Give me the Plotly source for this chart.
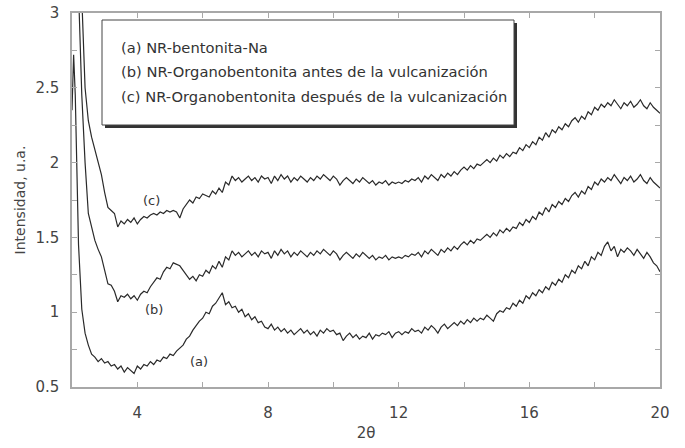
import plotly.graph_objects as go

# --- data -------------------------------------------------------------
x_head = [2.0, 2.05, 2.1, 2.15, 2.2, 2.3, 2.4]
step_start = 2.5
step = 0.1

a_head = [2.35, 2.72, 2.45, 1.95, 1.45, 1.02, 0.86]
b_head = [3.5, 3.5, 3.5, 3.3, 3.15, 2.45, 2.0]
c_head = [3.5, 3.5, 3.5, 3.5, 3.45, 3.1, 2.5]

a_vals = [
    0.78, 0.72, 0.70, 0.67, 0.69, 0.66, 0.67, 0.64, 0.65, 0.62,
    0.64, 0.60, 0.63, 0.61, 0.59, 0.64, 0.62, 0.65, 0.64, 0.67,
    0.65, 0.68, 0.67, 0.70, 0.69, 0.72, 0.71, 0.74, 0.76, 0.78,
    0.82, 0.84, 0.88, 0.91, 0.94, 0.96, 1.00, 0.99, 1.04, 1.06,
    1.10, 1.13, 1.05, 1.07, 1.03, 1.04, 1.00, 1.02, 0.97, 0.99,
    0.95, 0.97, 0.93, 0.94, 0.90, 0.89, 0.92, 0.88, 0.90, 0.87,
    0.89, 0.86, 0.88, 0.85, 0.87, 0.89, 0.86, 0.88, 0.85, 0.87,
    0.84, 0.88, 0.86, 0.89, 0.87, 0.88, 0.85, 0.86, 0.81, 0.84,
    0.86, 0.83, 0.85, 0.82, 0.84, 0.83, 0.86, 0.82, 0.85, 0.84,
    0.86, 0.85, 0.87, 0.83, 0.86, 0.87, 0.85, 0.87, 0.86, 0.89,
    0.87, 0.88, 0.86, 0.90, 0.88, 0.91, 0.89, 0.86, 0.90, 0.92,
    0.89, 0.91, 0.93, 0.91, 0.94, 0.92, 0.95, 0.93, 0.96, 0.94,
    0.96, 0.95, 0.98, 0.96, 0.94, 0.99, 1.01, 1.00, 1.03, 1.02,
    1.06, 1.04, 1.08, 1.06, 1.11, 1.09, 1.13, 1.11, 1.15, 1.13,
    1.17, 1.15, 1.20, 1.18, 1.22, 1.20, 1.25, 1.23, 1.28, 1.26,
    1.31, 1.29, 1.34, 1.31, 1.37, 1.35, 1.40, 1.38, 1.44, 1.47,
    1.41, 1.44, 1.37, 1.42, 1.40, 1.43, 1.41, 1.38, 1.42, 1.39,
    1.36, 1.40, 1.37, 1.33, 1.31, 1.27,
]

b_vals = [
    1.66, 1.56, 1.48, 1.42, 1.37, 1.28, 1.19, 1.18, 1.14, 1.07,
    1.11, 1.10, 1.12, 1.09, 1.11, 1.08, 1.12, 1.14, 1.13, 1.17,
    1.20, 1.23, 1.22, 1.27, 1.30, 1.29, 1.33, 1.32, 1.31, 1.28,
    1.25, 1.22, 1.24, 1.21, 1.25, 1.24, 1.28, 1.26, 1.31, 1.29,
    1.34, 1.30, 1.37, 1.35, 1.41, 1.38, 1.40, 1.37, 1.39, 1.41,
    1.38, 1.40, 1.37, 1.41, 1.39, 1.40, 1.36, 1.41, 1.38, 1.42,
    1.39, 1.41, 1.37, 1.40, 1.38, 1.41, 1.39, 1.37, 1.40, 1.38,
    1.41, 1.39, 1.42, 1.40, 1.38, 1.41, 1.39, 1.35, 1.38, 1.40,
    1.38, 1.36, 1.39, 1.37, 1.40, 1.38, 1.36, 1.38, 1.35, 1.37,
    1.36, 1.38, 1.35, 1.37, 1.36, 1.37, 1.36, 1.38, 1.37, 1.39,
    1.38, 1.40, 1.37, 1.41, 1.39, 1.42, 1.40, 1.38, 1.42, 1.40,
    1.43, 1.41, 1.44, 1.42, 1.45, 1.47, 1.45, 1.48, 1.46, 1.49,
    1.48, 1.50, 1.52, 1.50, 1.53, 1.51, 1.55, 1.53, 1.56, 1.54,
    1.57, 1.56, 1.60, 1.58, 1.62, 1.60, 1.64, 1.62, 1.67, 1.65,
    1.70, 1.67, 1.72, 1.70, 1.74, 1.72, 1.76, 1.74, 1.78, 1.80,
    1.77, 1.81, 1.79, 1.84, 1.82, 1.87, 1.85, 1.89, 1.87, 1.90,
    1.88, 1.92, 1.89, 1.86, 1.90, 1.88, 1.91, 1.87, 1.89, 1.92,
    1.88, 1.86, 1.90, 1.87, 1.85, 1.83,
]

c_vals = [
    2.28, 2.17, 2.08, 2.00, 1.92, 1.80, 1.70, 1.68, 1.66, 1.57,
    1.61, 1.59, 1.62, 1.60, 1.63, 1.59, 1.62, 1.64, 1.63, 1.65,
    1.66, 1.65, 1.67, 1.66, 1.68, 1.67, 1.68, 1.67, 1.63, 1.69,
    1.72, 1.75, 1.73, 1.77, 1.76, 1.79, 1.78, 1.77, 1.81, 1.79,
    1.83, 1.80, 1.87, 1.85, 1.91, 1.88, 1.90, 1.87, 1.89, 1.91,
    1.88, 1.90, 1.87, 1.91, 1.89, 1.90, 1.86, 1.91, 1.88, 1.92,
    1.89, 1.91, 1.87, 1.90, 1.88, 1.91, 1.89, 1.87, 1.90, 1.88,
    1.91, 1.89, 1.92, 1.90, 1.88, 1.91, 1.89, 1.85, 1.88, 1.90,
    1.88, 1.86, 1.89, 1.87, 1.90, 1.88, 1.86, 1.88, 1.85, 1.87,
    1.86, 1.88, 1.85, 1.87, 1.86, 1.87, 1.86, 1.88, 1.87, 1.89,
    1.88, 1.90, 1.87, 1.91, 1.89, 1.92, 1.90, 1.88, 1.92, 1.90,
    1.93, 1.91, 1.94, 1.92, 1.95, 1.97, 1.95, 1.98, 1.96, 1.99,
    1.98, 2.00, 2.02, 2.00, 2.03, 2.01, 2.05, 2.03, 2.06, 2.04,
    2.07, 2.06, 2.10, 2.08, 2.12, 2.10, 2.14, 2.12, 2.17, 2.15,
    2.20, 2.17, 2.22, 2.20, 2.24, 2.22, 2.26, 2.24, 2.28, 2.30,
    2.27, 2.31, 2.29, 2.34, 2.32, 2.37, 2.35, 2.39, 2.37, 2.40,
    2.38, 2.42, 2.39, 2.36, 2.40, 2.38, 2.41, 2.37, 2.39, 2.42,
    2.38, 2.36, 2.40, 2.37, 2.35, 2.33,
]

legend_lines = [
    "(a) NR-bentonita-Na",
    "(b) NR-Organobentonita antes de la vulcanización",
    "(c) NR-Organobentonita después de la vulcanización",
]
curve_labels = ["(a)", "(b)", "(c)"]
curve_label_pos = [(5.88, 0.67), (4.5, 1.02), (4.44, 1.75)]

x_ticks = [4, 8, 12, 16, 20]
y_ticks = [0.5, 1, 1.5, 2, 2.5, 3]
y_tick_text = ["0.5", "1", "1.5", "2", "2.5", "3"]


def make_x(vals):
    return x_head + [round(step_start + step * i, 2) for i in range(len(vals))]


fig = go.Figure()
for head, vals in [(a_head, a_vals), (b_head, b_vals), (c_head, c_vals)]:
    fig.add_trace(go.Scatter(
        x=make_x(vals), y=head + vals, mode="lines",
        line=dict(color="#2a2a2a", width=1.2),
        showlegend=False, hoverinfo="skip",
    ))

FONT = "DejaVu Sans"

for lbl, (lx, ly) in zip(curve_labels, curve_label_pos):
    fig.add_annotation(x=lx, y=ly, text=lbl, showarrow=False,
                       font=dict(family=FONT, size=13, color="#333"))


# legend box (paper coordinates)
def px_x(p):
    return (p - 72) / 588.0


def px_y(p):
    return (387 - p) / 374.0


fig.add_shape(type="rect", xref="paper", yref="paper",
              x0=px_x(105), x1=px_x(517), y0=px_y(128), y1=px_y(23),
              fillcolor="#333", line=dict(width=0), layer="above")
fig.add_shape(type="rect", xref="paper", yref="paper",
              x0=px_x(102), x1=px_x(514), y0=px_y(125), y1=px_y(20),
              fillcolor="white", line=dict(color="#444", width=1), layer="above")

for i, t in enumerate(legend_lines):
    fig.add_annotation(xref="paper", yref="paper", x=px_x(119), y=px_y(47 + 24.5 * i),
                       xanchor="left", yanchor="middle", text=t, showarrow=False,
                       font=dict(family=FONT, size=14.7, color="#333"))

axis_common = dict(
    showline=True, linecolor="#a8a8a8", linewidth=1.5, mirror="ticks",
    ticks="inside", ticklen=5, tickcolor="#a8a8a8", tickwidth=1,
    showgrid=False, zeroline=False, automargin=False,
    tickfont=dict(family=FONT, size=15, color="#444"),
)

fig.update_xaxes(range=[2, 20], tickvals=x_ticks, ticklabelstandoff=11,
                 minor=dict(tickvals=[2, 6, 10, 14, 18], ticks="inside", ticklen=5,
                            tickcolor="#a8a8a8"),
                 title=dict(text="2θ", font=dict(family=FONT, size=15, color="#444"), standoff=7),
                 **axis_common)
fig.update_yaxes(range=[0.5, 3], tickvals=y_ticks, ticktext=y_tick_text, ticklabelstandoff=8,
                 minor=dict(tickvals=[0.75, 1.25, 1.75, 2.25, 2.75], ticks="inside", ticklen=5,
                            tickcolor="#a8a8a8"),
                 title=dict(text="Intensidad, u.a.", font=dict(family=FONT, size=14, color="#444"),
                            standoff=6),
                 **axis_common)

fig.update_layout(
    width=685, height=448,
    margin=dict(l=72, r=25, t=13, b=61),
    paper_bgcolor="white", plot_bgcolor="white",
)

fig.write_html("out.html")
